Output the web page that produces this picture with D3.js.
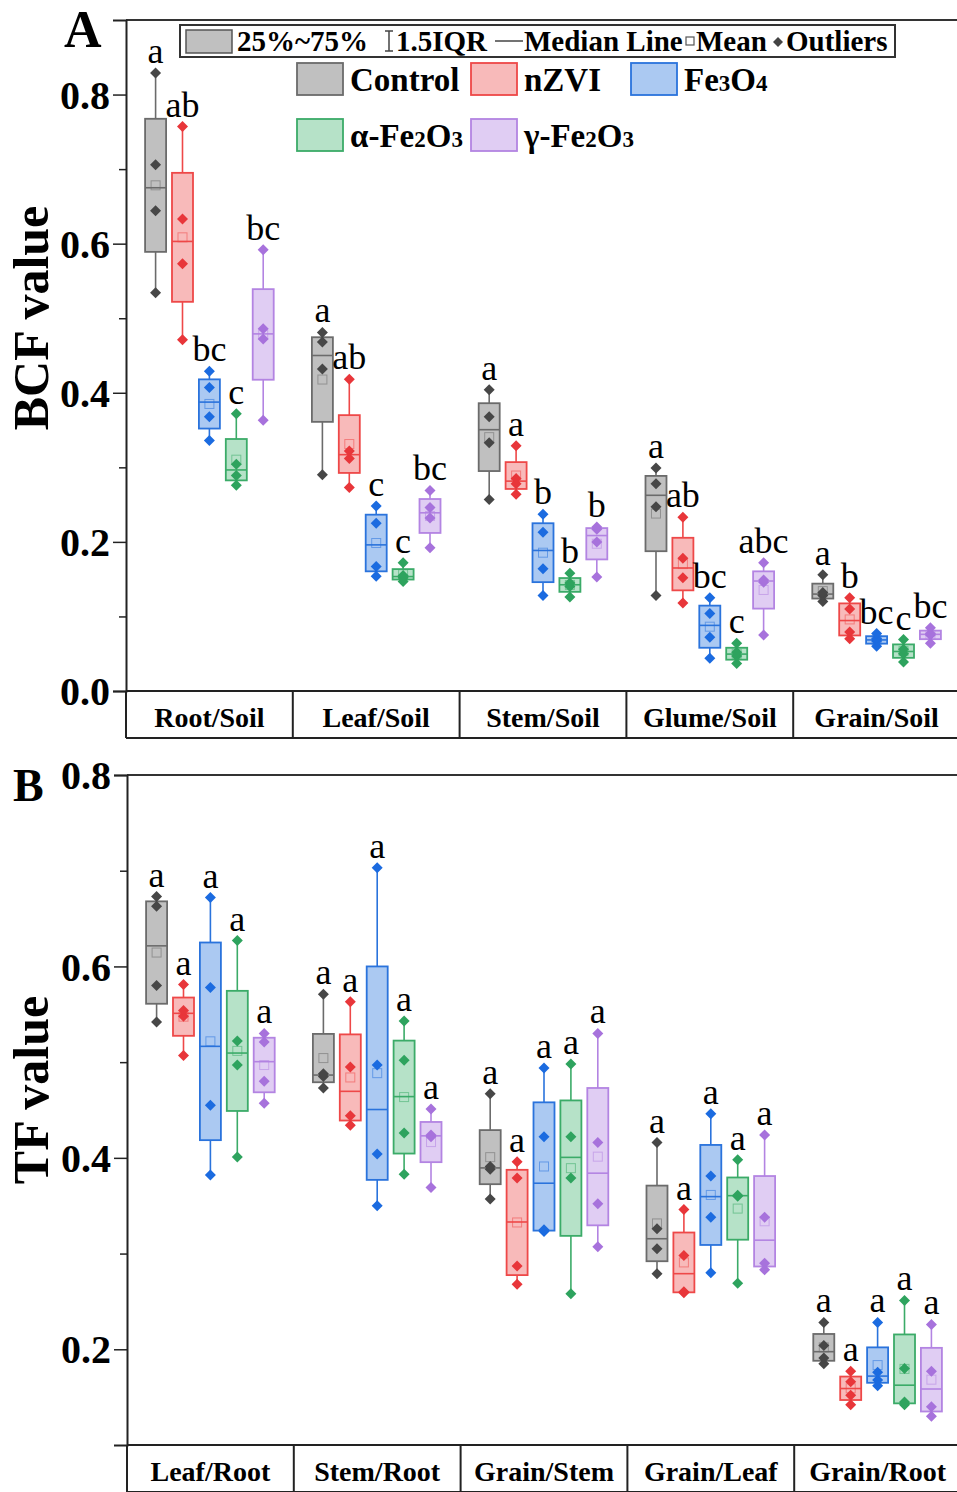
<!DOCTYPE html>
<html lang="en">
<head>
  <meta charset="UTF-8">
  <title>BCF and TF box plots</title>
  <script src="https://cdn.jsdelivr.net/npm/d3@7"></script>
  <style>
    body { margin: 0; background: #fff; }
    svg text { font-family: "Liberation Serif", "Times New Roman", serif; }
  </style>
</head>
<body>
  <div id="chart"></div>
  <script>
    // ---- data (4 replicates per box) ----
    var treatments = ["Control", "nZVI", "Fe3O4", "a-Fe2O3", "g-Fe2O3"];

    var bcfCats = ["Root/Soil", "Leaf/Soil", "Stem/Soil", "Glume/Soil", "Grain/Soil"];
    var bcfControl = [[0.829, 0.706, 0.644, 0.534], [0.481, 0.468, 0.432, 0.290], [0.404, 0.368, 0.333, 0.257], [0.299, 0.278, 0.247, 0.128], [0.156, 0.132, 0.128, 0.120]];
    var bcfNZVI    = [[0.757, 0.633, 0.573, 0.471], [0.418, 0.322, 0.312, 0.273], [0.329, 0.285, 0.278, 0.264], [0.233, 0.178, 0.152, 0.118], [0.125, 0.110, 0.079, 0.070]];
    var bcfFe3O4   = [[0.429, 0.407, 0.368, 0.336], [0.248, 0.225, 0.167, 0.154], [0.237, 0.213, 0.164, 0.128], [0.125, 0.104, 0.072, 0.044], [0.077, 0.070, 0.067, 0.060]];
    var bcfAlpha   = [[0.372, 0.304, 0.289, 0.276], [0.172, 0.155, 0.152, 0.147], [0.158, 0.145, 0.140, 0.126], [0.064, 0.052, 0.047, 0.037], [0.069, 0.056, 0.050, 0.039]];
    var bcfGamma   = [[0.592, 0.486, 0.472, 0.363], [0.269, 0.246, 0.232, 0.192], [0.220, 0.217, 0.200, 0.153], [0.172, 0.149, 0.146, 0.075], [0.085, 0.077, 0.075, 0.064]];
    var bcfLetters = [["a", "ab", "bc", "c", "bc"], ["a", "ab", "c", "c", "bc"], ["a", "a", "b", "b", "b"], ["a", "ab", "bc", "c", "abc"], ["a", "b", "bc", "c", "bc"]];
    var bcfTicks = [0, 0.2, 0.4, 0.6, 0.8];
    var bcfMinor = [0.1, 0.3, 0.5, 0.7];

    var tfCats = ["Leaf/Root", "Stem/Root", "Grain/Stem", "Grain/Leaf", "Grain/Root"];
    var tfControl = [[0.673, 0.663, 0.580, 0.542], [0.571, 0.488, 0.485, 0.473], [0.467, 0.391, 0.388, 0.357], [0.416, 0.326, 0.305, 0.279], [0.228, 0.204, 0.191, 0.185]];
    var tfNZVI    = [[0.581, 0.554, 0.548, 0.507], [0.563, 0.495, 0.444, 0.434], [0.396, 0.379, 0.287, 0.268], [0.346, 0.298, 0.260, 0.259], [0.177, 0.166, 0.152, 0.142]];
    var tfFe3O4   = [[0.672, 0.578, 0.455, 0.382], [0.703, 0.497, 0.404, 0.350], [0.494, 0.422, 0.325, 0.323], [0.446, 0.381, 0.338, 0.280], [0.228, 0.176, 0.168, 0.162]];
    var tfAlpha   = [[0.627, 0.522, 0.497, 0.401], [0.543, 0.502, 0.426, 0.383], [0.498, 0.422, 0.379, 0.258], [0.398, 0.361, 0.360, 0.269], [0.251, 0.180, 0.145, 0.142]];
    var tfGamma   = [[0.530, 0.521, 0.480, 0.457], [0.451, 0.424, 0.422, 0.369], [0.530, 0.416, 0.352, 0.307], [0.424, 0.338, 0.290, 0.283], [0.226, 0.177, 0.140, 0.130]];
    var tfLetters = [["a", "a", "a", "a", "a"], ["a", "a", "a", "a", "a"], ["a", "a", "a", "a", "a"], ["a", "a", "a", "a", "a"], ["a", "a", "a", "a", "a"]];
    var tfTicks = [0.2, 0.4, 0.6, 0.8];
    var tfMinor = [0.3, 0.5, 0.7];

    // colours per treatment
    var fills   = ["#c0c0c0", "#f8baba", "#abc9f2", "#b6e2c8", "#e0cdf3"];
    var strokes = ["#6b6b6b", "#ee4848", "#2a73dc", "#3bab68", "#b384e2"];
    var dots    = ["#474747", "#e8363a", "#1b6be0", "#2ea35e", "#a772dc"];

    var W = 957, H = 1492;
    var svg = d3.select("#chart").append("svg")
      .attr("width", W).attr("height", H);

    // tukey hinges, as the boxes in the figure are drawn
    function boxStats(v) {
      var s = v.slice().sort(d3.ascending);
      var n = s.length;
      var lower = s.slice(0, Math.ceil(n / 2)), upper = s.slice(Math.floor(n / 2));
      var q1 = d3.median(lower), q3 = d3.median(upper), iqr = q3 - q1;
      var inRange = s.filter(function (d) { return d >= q1 - 1.5 * iqr && d <= q3 + 1.5 * iqr; });
      return { q1: q1, q3: q3, med: d3.median(s), mean: d3.mean(s), lo: d3.min(inRange), hi: d3.max(inRange), pts: s };
    }

    function diamond(r) {
      return "M0," + (-r) + "L" + r + ",0L0," + r + "L" + (-r) + ",0Z";
    }

    function drawPanel(p) {
      var g = svg.append("g");
      var x = d3.scaleBand().domain(p.cats).range([p.left, p.right]);
      var xi = d3.scalePoint().domain(treatments).range([0, x.bandwidth()]).padding(1.1);
      var y = d3.scaleLinear().domain(p.domain).range([p.bottom, p.top]);
      var bw = 21;

      // frame lines
      g.append("line").attr("x1", p.left).attr("x2", p.right).attr("y1", p.top).attr("y2", p.top)
        .attr("stroke", "#333").attr("stroke-width", 2);
      g.append("line").attr("x1", p.left).attr("x2", p.right).attr("y1", p.bottom).attr("y2", p.bottom)
        .attr("stroke", "#222").attr("stroke-width", 2);

      // y axis, major + minor
      var ax = g.append("g").attr("transform", "translate(" + p.left + ",0)")
        .call(d3.axisLeft(y).tickValues(p.ticks).tickSize(13).tickPadding(3).tickFormat(d3.format(".1f")));
      ax.select(".domain").attr("stroke", "#222").attr("stroke-width", 2);
      ax.selectAll(".tick line").attr("stroke", "#222").attr("stroke-width", 1.5);
      ax.selectAll(".tick text").attr("font-family", "Liberation Serif").attr("font-weight", "bold")
        .attr("font-size", 40).attr("fill", "#000").attr("dy", "0.34em");
      var mx = g.append("g").attr("transform", "translate(" + p.left + ",0)")
        .call(d3.axisLeft(y).tickValues(p.minor).tickSize(7).tickFormat(""));
      mx.select(".domain").remove();
      mx.selectAll(".tick line").attr("stroke", "#222").attr("stroke-width", 1.5);

      // category strip under the plot
      var strip = g.append("g");
      strip.append("line").attr("x1", p.left).attr("x2", p.right).attr("y1", p.bottom + 47).attr("y2", p.bottom + 47)
        .attr("stroke", "#222").attr("stroke-width", 2);
      strip.selectAll("line.sep").data(p.cats).enter().append("line").attr("class", "sep")
        .attr("x1", function (d) { return x(d); }).attr("x2", function (d) { return x(d); })
        .attr("y1", p.bottom).attr("y2", p.bottom + 47)
        .attr("stroke", "#222").attr("stroke-width", 2);
      strip.selectAll("text").data(p.cats).enter().append("text")
        .attr("x", function (d) { return x(d) + x.bandwidth() / 2; })
        .attr("y", p.bottom + 36)
        .attr("text-anchor", "middle").attr("font-weight", "bold").attr("font-size", 28)
        .text(function (d) { return d; });

      // boxes
      p.series.forEach(function (ser, ti) {
        ser.forEach(function (vals, ci) {
          var st = boxStats(vals);
          var cx = x(p.cats[ci]) + xi(treatments[ti]);
          var bg = g.append("g");
          bg.append("line").attr("x1", cx).attr("x2", cx).attr("y1", y(st.hi)).attr("y2", y(st.lo))
            .attr("stroke", strokes[ti]).attr("stroke-width", 1.6);
          bg.append("rect").attr("x", cx - bw / 2).attr("width", bw)
            .attr("y", y(st.q3)).attr("height", Math.max(1, y(st.q1) - y(st.q3)))
            .attr("fill", fills[ti]).attr("stroke", strokes[ti]).attr("stroke-width", 1.8);
          bg.append("line").attr("x1", cx - bw / 2).attr("x2", cx + bw / 2)
            .attr("y1", y(st.med)).attr("y2", y(st.med))
            .attr("stroke", strokes[ti]).attr("stroke-width", 1.6);
          bg.append("rect").attr("x", cx - 4.5).attr("y", y(st.mean) - 4.5).attr("width", 9).attr("height", 9)
            .attr("fill", "none").attr("stroke", strokes[ti]).attr("stroke-opacity", 0.55).attr("stroke-width", 1);
          bg.selectAll("path").data(st.pts).enter().append("path")
            .attr("d", diamond(5.5))
            .attr("transform", function (d) { return "translate(" + cx + "," + y(d) + ")"; })
            .attr("fill", dots[ti]);
          bg.append("text").attr("x", cx).attr("y", y(st.hi) - 10)
            .attr("text-anchor", "middle").attr("font-size", 36).attr("fill", "#000")
            .text(p.letters[ci][ti]);
        });
      });

      // axis title
      g.append("text")
        .attr("transform", "translate(" + p.titleX + "," + p.titleY + ") rotate(-90)")
        .attr("text-anchor", "middle").attr("font-weight", "bold").attr("font-size", 50)
        .text(p.title);
    }

    drawPanel({
      cats: bcfCats, series: [bcfControl, bcfNZVI, bcfFe3O4, bcfAlpha, bcfGamma], letters: bcfLetters,
      ticks: bcfTicks, minor: bcfMinor, domain: [0, 0.9],
      left: 126, right: 960, top: 20, bottom: 691,
      title: "BCF value", titleX: 48, titleY: 318
    });
    drawPanel({
      cats: tfCats, series: [tfControl, tfNZVI, tfFe3O4, tfAlpha, tfGamma], letters: tfLetters,
      ticks: tfTicks, minor: tfMinor, domain: [0.1, 0.8],
      left: 127, right: 961, top: 775, bottom: 1445,
      title: "TF value", titleX: 48, titleY: 1090
    });

    // panel letters
    svg.append("text").attr("x", 64).attr("y", 46.5).attr("font-weight", "bold").attr("font-size", 52).text("A");
    svg.append("text").attr("x", 13).attr("y", 801).attr("font-weight", "bold").attr("font-size", 46).text("B");

    // ---- box legend (top strip) ----
    var lg = svg.append("g").attr("font-weight", "bold").attr("font-size", 29);
    lg.append("rect").attr("x", 180).attr("y", 25).attr("width", 715).attr("height", 32)
      .attr("fill", "#fff").attr("stroke", "#333").attr("stroke-width", 2);
    lg.append("rect").attr("x", 186).attr("y", 30).attr("width", 46).attr("height", 23)
      .attr("fill", fills[0]).attr("stroke", "#555").attr("stroke-width", 1.5);
    lg.append("text").attr("x", 237).attr("y", 51).text("25%~75%");
    lg.append("path").attr("d", "M385,31H393M389,31V51M385,51H393").attr("stroke", "#444").attr("stroke-width", 1.5).attr("fill", "none");
    lg.append("text").attr("x", 396).attr("y", 51).text("1.5IQR");
    lg.append("line").attr("x1", 495).attr("x2", 523).attr("y1", 41).attr("y2", 41).attr("stroke", "#444").attr("stroke-width", 1.5);
    lg.append("text").attr("x", 524).attr("y", 51).text("Median Line");
    lg.append("rect").attr("x", 686).attr("y", 37).attr("width", 8).attr("height", 8)
      .attr("fill", "none").attr("stroke", "#555").attr("stroke-width", 1.2);
    lg.append("text").attr("x", 696).attr("y", 51).text("Mean");
    lg.append("path").attr("d", diamond(5)).attr("transform", "translate(778,42)").attr("fill", "#444");
    lg.append("text").attr("x", 786).attr("y", 51).text("Outliers");

    // ---- treatment legend ----
    var legItems = [
      { i: 0, x: 297, y: 63, parts: [["Control", 0]] },
      { i: 1, x: 471, y: 63, parts: [["nZVI", 0]] },
      { i: 2, x: 631, y: 63, parts: [["Fe", 0], ["3", 1], ["O", 0], ["4", 1]] },
      { i: 3, x: 297, y: 119, parts: [["\u03b1-Fe", 0], ["2", 1], ["O", 0], ["3", 1]] },
      { i: 4, x: 471, y: 119, parts: [["\u03b3-Fe", 0], ["2", 1], ["O", 0], ["3", 1]] }
    ];
    var tl = svg.append("g");
    legItems.forEach(function (it) {
      tl.append("rect").attr("x", it.x).attr("y", it.y).attr("width", 46).attr("height", 32)
        .attr("fill", fills[it.i]).attr("stroke", strokes[it.i]).attr("stroke-width", 1.8);
      var t = tl.append("text").attr("x", it.x + 53).attr("y", it.y + 28)
        .attr("font-weight", "bold").attr("font-size", 33);
      it.parts.forEach(function (pt) {
        t.append("tspan").attr("font-size", pt[1] ? 23 : 33).text(pt[0]);
      });
    });
  </script>
</body>
</html>
